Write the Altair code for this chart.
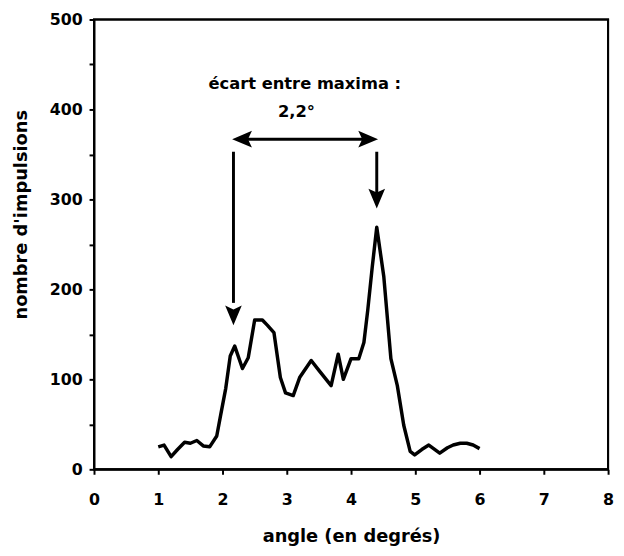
import altair as alt
import pandas as pd

# measured curve (angle in degrees, pulse count)
angle = [1.0, 1.09, 1.2, 1.3, 1.41, 1.5, 1.6, 1.7, 1.8, 1.91, 1.97, 2.05, 2.12, 2.19,
         2.31, 2.4, 2.5, 2.62, 2.7, 2.8, 2.9, 2.98, 3.1, 3.2, 3.38, 3.5, 3.69, 3.8,
         3.88, 4.0, 4.12, 4.2, 4.26, 4.33, 4.4, 4.51, 4.62, 4.72, 4.82, 4.92, 4.99,
         5.1, 5.21, 5.38, 5.5, 5.59, 5.7, 5.8, 5.9, 6.0]
counts = [25, 27, 14, 22, 30, 29, 32, 26, 25, 37, 60, 90, 126, 137,
          112, 124, 166, 166, 160, 152, 102, 85, 82, 102, 121, 110, 93, 128,
          100, 123, 123, 141, 177, 225, 269, 214, 123, 93, 49, 20, 16,
          22, 27, 18, 24, 27, 29, 29, 27, 23]

x_tick_values = [0, 0.5, 1, 1.5, 2, 2.5, 3, 3.5, 4, 4.5, 5, 5.5, 6, 6.5, 7, 7.5, 8]
y_tick_values = [0, 50, 100, 150, 200, 250, 300, 350, 400, 450, 500]
x_domain = [0, 8]
y_domain = [0, 500]

# annotation: text lines
note_text = ["écart entre maxima :", "2,2°"]
note_x = [3.28, 3.15]
note_y = [428, 397]

# arrows: shafts (x, y, x2, y2) and heads (x, y, direction)
shaft_x = [2.3, 2.17, 4.4]
shaft_x2 = [4.27, 2.17, 4.4]
shaft_y = [367, 353, 353]
shaft_y2 = [367, 185, 305]
head_x = [2.15, 4.42, 2.17, 4.4]
head_y = [367, 367, 160, 290]
head_dir = ["left", "right", "down", "down"]

FONT = "DejaVu Sans"

curve = pd.DataFrame({"angle": angle, "counts": counts})
notes = pd.DataFrame({"text": note_text, "x": note_x, "y": note_y})
shafts = pd.DataFrame({"x": shaft_x, "x2": shaft_x2, "y": shaft_y, "y2": shaft_y2})
heads = pd.DataFrame({"x": head_x, "y": head_y, "dir": head_dir})

xscale = alt.Scale(domain=x_domain, nice=False, zero=False)
yscale = alt.Scale(domain=y_domain, nice=False)

xaxis = alt.Axis(
    values=x_tick_values,
    format="d",
    labelExpr="datum.value % 1 === 0 ? datum.label : ''",
    title="angle (en degrés)",
    grid=False,
    tickSize=5, tickWidth=2, tickColor="black",
    domainWidth=2, domainColor="black",
    labelFont=FONT, labelFontWeight="bold", labelFontSize=16, labelColor="black",
    labelPadding=18, labelFlush=False,
    titleFont=FONT, titleFontWeight="bold", titleFontSize=18, titleColor="black",
    titleY=68, titleBaseline="middle",
)
yaxis = alt.Axis(
    values=y_tick_values,
    format="d",
    labelExpr="datum.value % 100 === 0 ? datum.label : ''",
    title="nombre d'impulsions",
    grid=False,
    tickSize=5, tickWidth=2, tickColor="black",
    domainWidth=2, domainColor="black",
    labelFont=FONT, labelFontWeight="bold", labelFontSize=16, labelColor="black",
    labelPadding=7, labelFlush=False,
    titleFont=FONT, titleFontWeight="bold", titleFontSize=18, titleColor="black",
    titleX=-73, titleY=197, titleAngle=-90, titleBaseline="middle", titleAlign="center",
)

line = alt.Chart(curve).mark_line(color="black", strokeWidth=3.5, strokeJoin="round").encode(
    x=alt.X("angle:Q", scale=xscale, axis=xaxis),
    y=alt.Y("counts:Q", scale=yscale, axis=yaxis),
)

frame = alt.Chart(curve).mark_rect(
    filled=False, stroke="black", strokeWidth=2, fillOpacity=0
).encode(
    x=alt.datum(x_domain[0], scale=xscale),
    x2=alt.datum(x_domain[1]),
    y=alt.datum(y_domain[0], scale=yscale),
    y2=alt.datum(y_domain[1]),
).transform_filter("datum.angle == 1.0")

text = alt.Chart(notes).mark_text(
    font=FONT, fontSize=16.5, fontWeight="bold", color="black", align="center", baseline="middle"
).encode(
    x=alt.X("x:Q", scale=xscale),
    y=alt.Y("y:Q", scale=yscale),
    text="text:N",
)

shaft = alt.Chart(shafts).mark_rule(color="black", strokeWidth=3).encode(
    x=alt.X("x:Q", scale=xscale),
    x2="x2:Q",
    y=alt.Y("y:Q", scale=yscale),
    y2="y2:Q",
)

arrow_paths = {
    "left": "M0,0L1,-0.42L0.8,0L1,0.42Z",
    "right": "M0,0L-1,-0.42L-0.8,0L-1,0.42Z",
    "down": "M0,0L-0.42,-1L0,-0.8L0.42,-1Z",
}
head_layers = []
for d, path in arrow_paths.items():
    head_layers.append(
        alt.Chart(heads).transform_filter(alt.datum.dir == d).mark_point(
            shape=path, filled=True, color="black", opacity=1, size=1600, strokeWidth=0
        ).encode(
            x=alt.X("x:Q", scale=xscale),
            y=alt.Y("y:Q", scale=yscale),
        )
    )

chart = alt.layer(line, frame, shaft, *head_layers, text).properties(
    width=520, height=455,
    background="white",
    autosize=alt.AutoSizeParams(type="none"),
    padding={"left": 87, "top": 8.5, "right": 8, "bottom": 80},
).configure_view(stroke="black", strokeWidth=2)

chart.save("out.html", embed_options={"renderer": "svg", "actions": False})
